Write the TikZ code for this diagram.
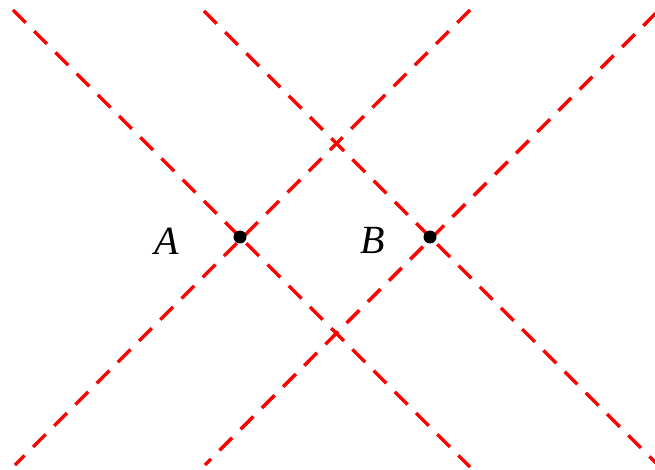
\documentclass[tikz,border=0pt]{standalone}
\usepackage{fontspec}
\setmainfont{Liberation Serif}
\usetikzlibrary{calc}
\begin{document}
\begin{tikzpicture}[x=1pt,y=-1pt,
  redline/.style={draw=red,line width=3.5pt,dash pattern=on 18pt off 12pt},
  dot/.style={circle,fill=black,inner sep=0pt,minimum size=13pt},
  lbl/.style={font=\fontsize{40}{40}\selectfont\itshape,inner sep=0pt}]
\useasboundingbox (0,0) rectangle (655,470);
\coordinate (A) at (240,237);
\coordinate (B) at (430,237);
\coordinate (a1) at ($(A)+(-227,-227)$);
\coordinate (a2) at ($(A)+(230,230)$);
\coordinate (a3) at ($(A)+(230,-227)$);
\coordinate (a4) at ($(A)+(-225,228)$);
\coordinate (b1) at ($(B)+(-226,-226)$);
\coordinate (b2) at ($(B)+(226,226)$);
\coordinate (b3) at ($(B)+(226,-224)$);
\coordinate (b4) at ($(B)+(-225,228)$);
\draw[redline] (a1) -- (a2);
\draw[redline] (a3) -- (a4);
\draw[redline] (b1) -- (b2);
\draw[redline] (b3) -- (b4);
\node[dot] (dA) at (A) {};
\node[dot] (dB) at (B) {};
\node[lbl] (lA) at (167,241) {A};
\node[lbl] (lB) at (373,240) {B};
\end{tikzpicture}
\end{document}
